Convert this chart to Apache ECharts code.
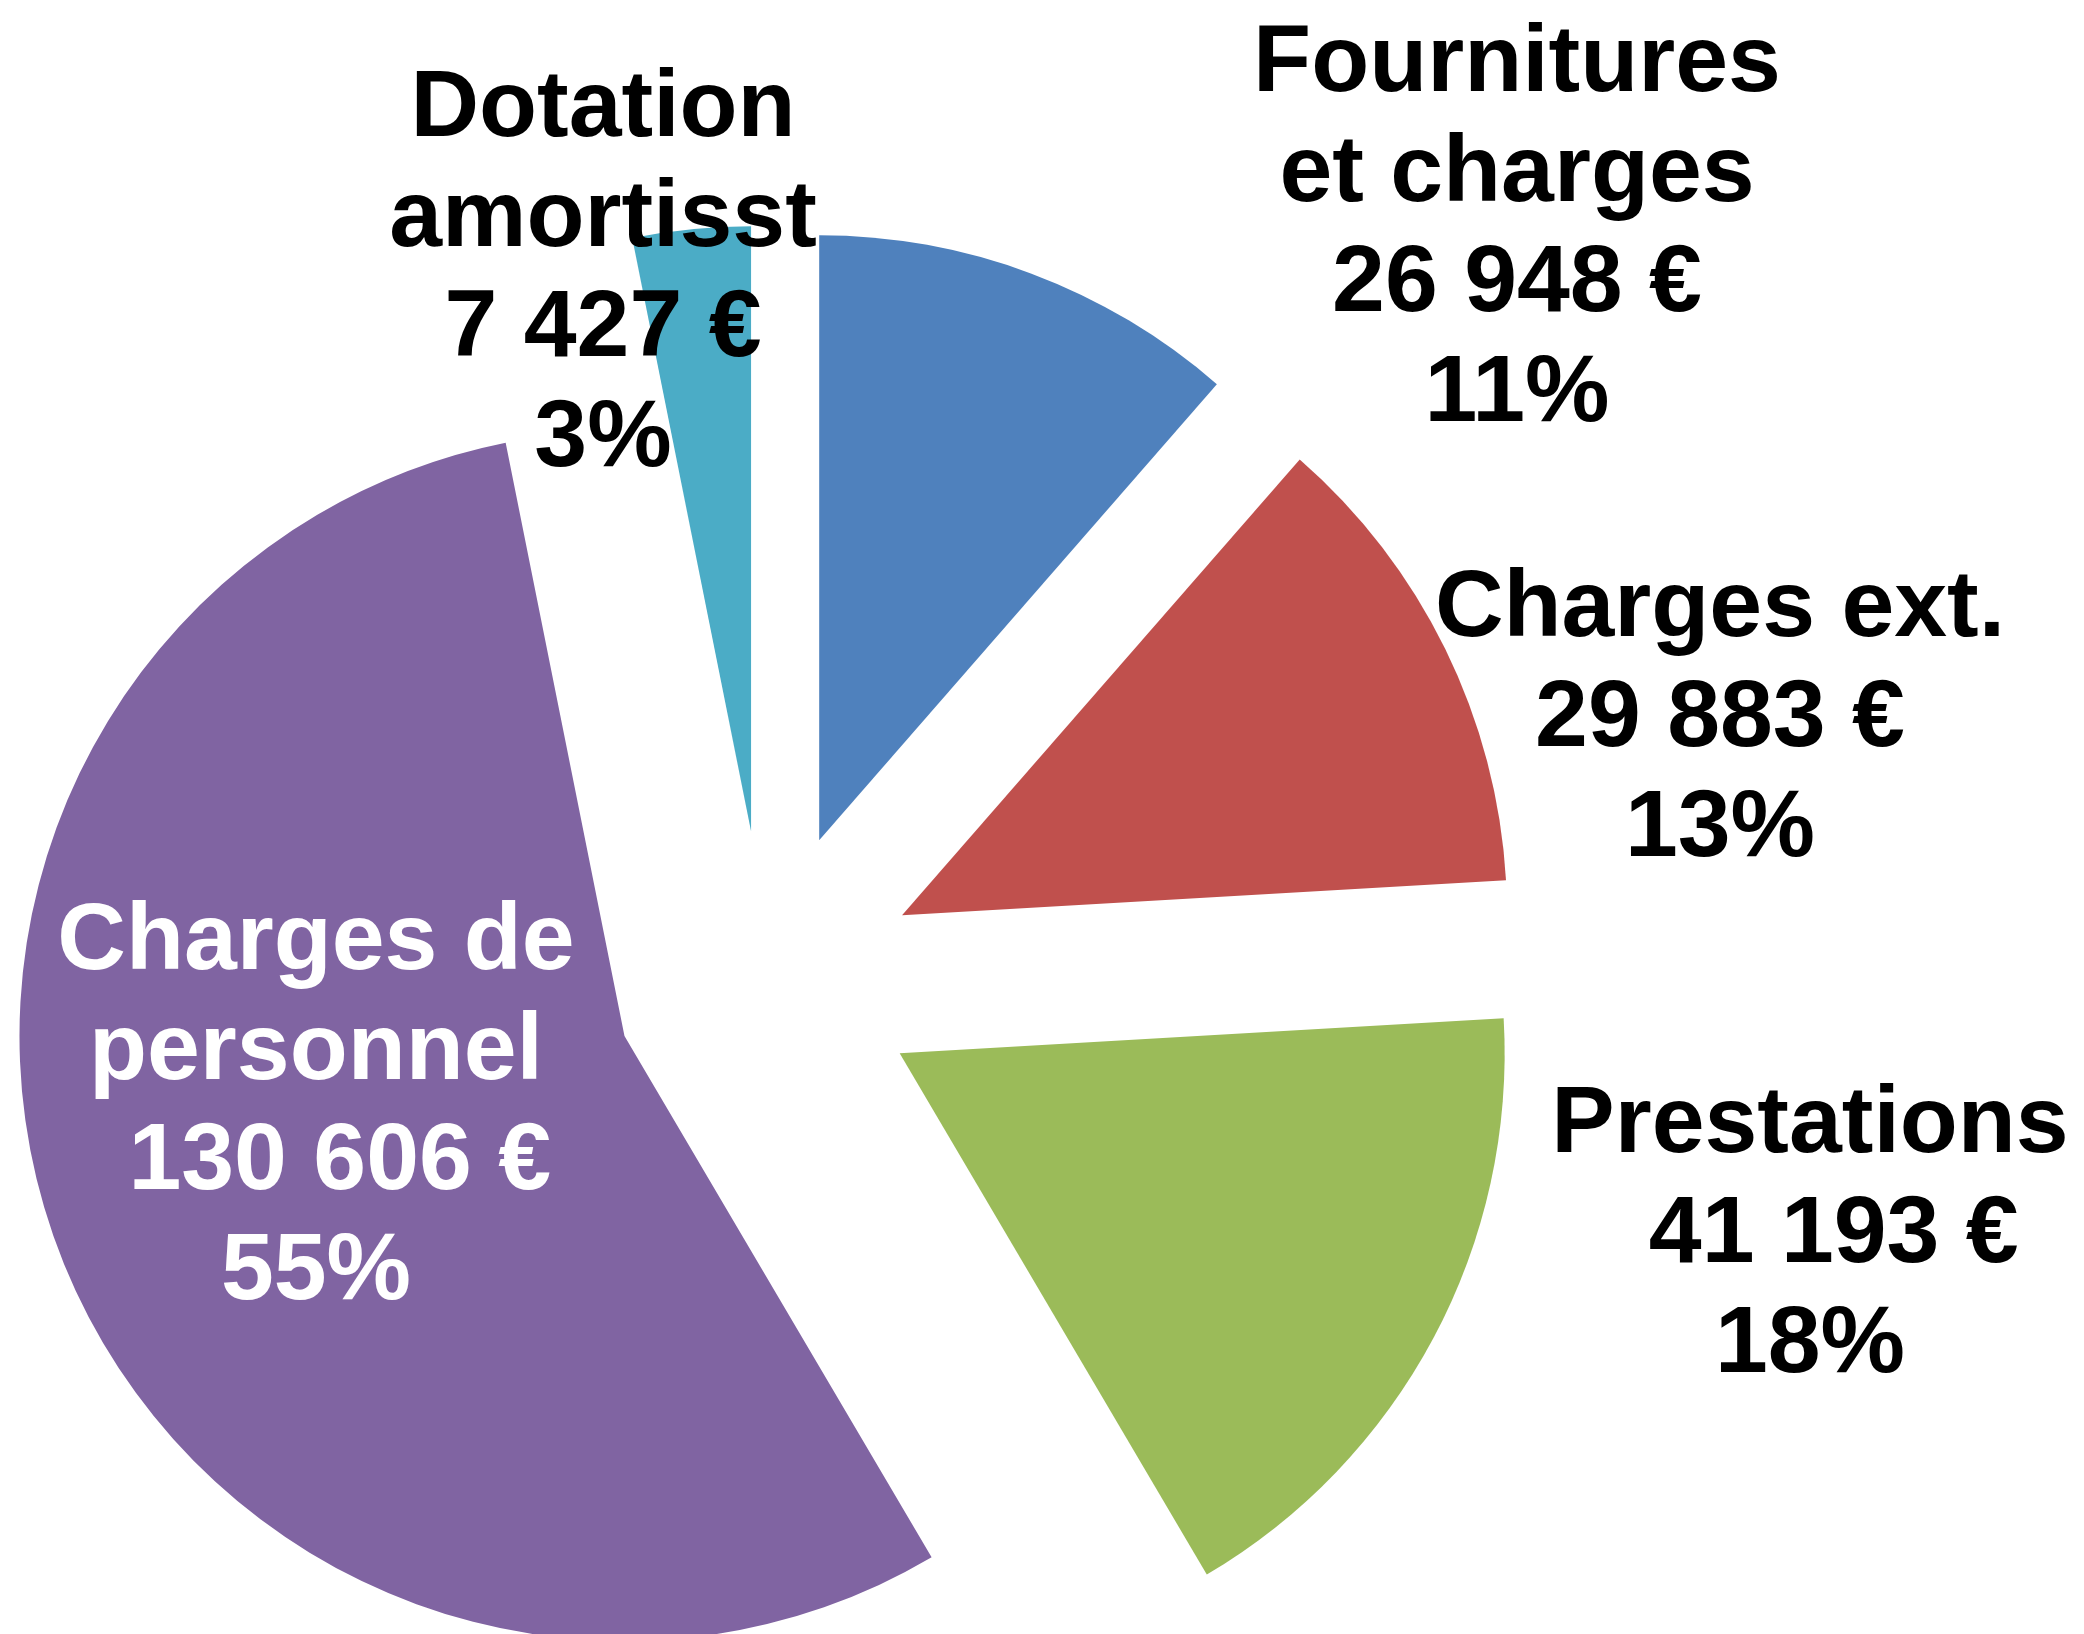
<!DOCTYPE html>
<html>
<head>
<meta charset="utf-8">
<script src="https://cdn.jsdelivr.net/npm/echarts@6/dist/echarts.min.js"></script>
<style>
  html, body { margin: 0; padding: 0; background: #ffffff; }
  #chart { width: 2084px; height: 1634px; }
</style>
</head>
<body>
<div id="chart"></div>
<script>
// ---- data ----
const categories = ['Fournitures\net charges', 'Charges ext.', 'Prestations', 'Charges de\npersonnel', 'Dotation\namortisst'];
const amounts = [26948, 29883, 41193, 130606, 7427];
const percentLabels = ['11%', '13%', '18%', '55%', '3%'];
const colors = ['#4F81BD', '#C0504D', '#9BBB59', '#8064A2', '#4BACC6'];
const labelColors = ['#000000', '#000000', '#000000', '#ffffff', '#000000'];

// label block centres (px)
const labelPos = [[1517, 230], [1720, 720], [1810, 1236], [316, 1108], [603, 275]];
const valuePrefix = ['', '', '\u2002', '\u2002', ''];

function fmt(n) {
  return String(n).replace(/\B(?=(\d{3})+(?!\d))/g, ' ');
}
function labelText(i) {
  return categories[i] + '\n' + valuePrefix[i] + fmt(amounts[i]) + ' €\n' + percentLabels[i];
}

const chart = echarts.init(document.getElementById('chart'), null, { renderer: 'canvas' });

const data = categories.map((c, i) => ({
  name: c,
  value: amounts[i],
  selected: true,
  itemStyle: { color: colors[i] }
}));

const labelGraphics = categories.map((c, i) => ({
  type: 'text',
  x: labelPos[i][0],
  y: labelPos[i][1],
  z: 100,
  style: {
    text: labelText(i),
    fill: labelColors[i],
    font: 'bold 95px "Liberation Sans", Arial, sans-serif',
    lineHeight: 110,
    align: 'center',
    verticalAlign: 'middle'
  }
}));

chart.setOption({
  animation: false,
  backgroundColor: '#ffffff',
  graphic: { elements: labelGraphics },
  series: [{
    type: 'pie',
    center: [766, 982],
    radius: [0, 605],
    startAngle: 90,
    clockwise: true,
    selectedMode: 'multiple',
    selectedOffset: 151.5,
    avoidLabelOverlap: false,
    silent: true,
    itemStyle: { borderWidth: 0 },
    emphasis: { disabled: true },
    select: { itemStyle: { borderWidth: 0 } },
    labelLine: { show: false },
    label: { show: false },
    data: data
  }]
});
</script>
</body>
</html>
